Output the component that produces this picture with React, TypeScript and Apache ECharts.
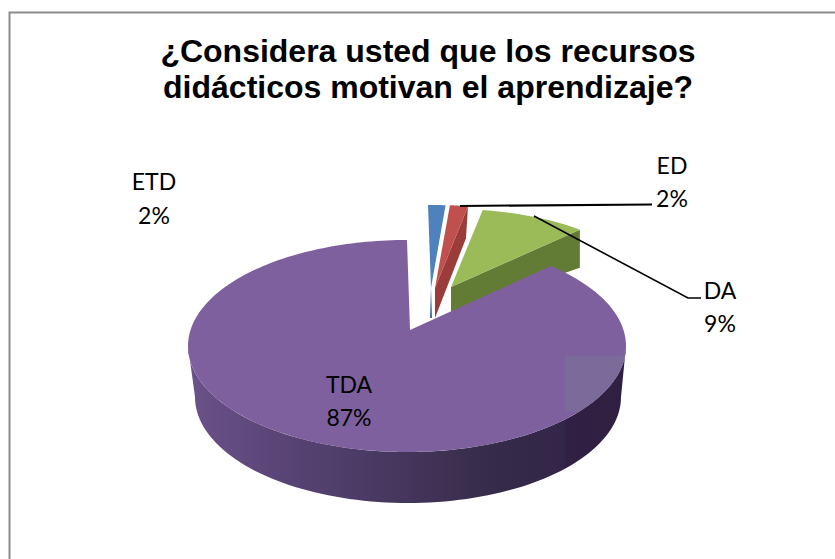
import React, { useEffect, useRef } from "react";
import * as echarts from "echarts";

const categories = ["ETD", "ED", "DA", "TDA"];
const percentValues = [2, 2, 9, 87];
const titleLines = ["¿Considera usted que los recursos", "didácticos motivan el aprendizaje?"];

const START_ANGLE = 92.4;

// Layout of each exploded slice (style, not data)
const sliceLayout: any[] = [
  { apex: [431, 288], apexLow: [430, 318], cx: 431, cy: 288, rx: 190, ry: 83, trimS: 1.5, trimE: 0.4, depth: 0, top: "#4f81bd", side: "#3d6596" },
  { apex: [435, 288], apexLow: [435, 318], cx: 435, cy: 288, rx: 190, ry: 83, trimS: -0.3, trimE: 2, depth: 32, top: "#c0504d", side: "#9a3d3a" },
  { apex: [451, 287], apexLow: [451, 312], cx: 451, cy: 287, rx: 190, ry: 78, trimS: -2.4, trimE: 1.7, depth: 38, top: "#9bbb59", side: "#637c35" },
];
const purple = { apex: [410, 330], cx: 407, cy: 346, rx: 219, ry: 106, growS: 3.4, growE: 2.4, bx: 408, by: 397, brx: 213, bry: 106, top: "#7f609f" };

const labelLayout: any[] = [
  { x: 154, y: 181, y2: 215 },
  { x: 672, y: 165, y2: 198 },
  { x: 720, y: 290, y2: 323 },
  { x: 349, y: 384, y2: 417 },
];

function arc(cx: number, cy: number, rx: number, ry: number, from: number, to: number, n = 90) {
  const pts: number[][] = [];
  for (let i = 0; i <= n; i++) {
    const a = ((from + ((to - from) * i) / n) * Math.PI) / 180;
    pts.push([cx + rx * Math.cos(a), cy - ry * Math.sin(a)]);
  }
  return pts;
}

function sliceRange(idx: number) {
  const total = percentValues.reduce((s, v) => s + v, 0);
  let a = START_ANGLE;
  for (let i = 0; i < idx; i++) a -= (percentValues[i] / total) * 360;
  return [a, a - (percentValues[idx] / total) * 360];
}

function renderSlice(params: any, api: any) {
  const idx = params.dataIndex;
  const [a0, a1] = sliceRange(idx);
  const noShadow = { silent: true };
  const children: any[] = [];
  if (idx < 3) {
    const s = sliceLayout[idx];
    const from = a0 - s.trimS;
    const to = a1 + s.trimE;
    const rim = arc(s.cx, s.cy, s.rx, s.ry, from, to, 12);
    const last = rim[rim.length - 1];
    if (s.depth) {
      children.push({
        type: "polygon",
        shape: { points: [s.apex, s.apexLow, [last[0] - (idx === 1 ? 2 : 0), last[1] + s.depth], last] },
        style: { fill: s.side },
        ...noShadow,
      });
    } else {
      children.push({
        type: "polygon",
        shape: { points: [s.apex, s.apexLow, [s.apexLow[0] + 2, s.apexLow[1]]] },
        style: { fill: s.side },
        ...noShadow,
      });
    }
    children.push({
      type: "polygon",
      shape: { points: [s.apex, ...rim] },
      style: { fill: s.top },
      ...noShadow,
    });
  } else {
    const p = purple;
    const from = a0 + p.growS;
    const to = a1 - p.growE;
    const upper = arc(p.cx, p.cy, p.rx, p.ry, 180, 360);
    const lower = arc(p.bx, p.by, p.brx, p.bry, 360, 180);
    children.push({
      type: "polygon",
      shape: { points: [...upper, ...lower] },
      style: {
        fill: new echarts.graphic.LinearGradient(0, 0, 1, 0, [
          { offset: 0, color: "#6b528a" },
          { offset: 0.18, color: "#5c4679" },
          { offset: 0.45, color: "#473860" },
          { offset: 0.72, color: "#352a47" },
          { offset: 0.86, color: "#33264a" },
          { offset: 0.861, color: "#321f44" },
          { offset: 1, color: "#2f2040" },
        ]),
      },
      ...noShadow,
    });
    children.push({
      type: "polygon",
      shape: { points: [p.apex, ...arc(p.cx, p.cy, p.rx, p.ry, from, to, 240)] },
      style: { fill: p.top },
      ...noShadow,
    });
    const patch = arc(p.cx, p.cy, p.rx, p.ry, 358.5, 322, 24).filter((q) => q[0] >= 565);
    children.push({
      type: "polygon",
      shape: { points: [[565, 356], [623, 356], ...patch.slice(1), [565, patch[patch.length - 1][1]]] },
      style: { fill: "#7b6b9b" },
      ...noShadow,
    });
  }
  return { type: "group", children };
}

function renderLabel(params: any, api: any) {
  const idx = params.dataIndex;
  const l = labelLayout[idx];
  const font = { fontFamily: "Lato", fontSize: 23, fill: "#000", textAlign: "center", textVerticalAlign: "middle" };
  return {
    type: "group",
    children: [
      { type: "text", x: l.x, y: l.y, style: { ...font, text: categories[idx] } },
      { type: "text", x: l.x, y: l.y2, style: { ...font, text: `${api.value(0)}%` } },
    ],
  };
}

export default function App() {
  const ref = useRef<HTMLDivElement>(null);
  useEffect(() => {
    const chart = echarts.init(ref.current!, undefined, { renderer: "svg" });
    const sliceData = categories.map((name, i) => ({ name, value: percentValues[i] }));
    chart.setOption({
      animation: false,
      backgroundColor: "#fff",
      title: {
        text: titleLines.join("\n"),
        left: 423,
        top: 28,
        textAlign: "center",
        textStyle: { fontFamily: "Liberation Sans", fontWeight: "bold", fontSize: 32, lineHeight: 36, color: "#000" },
      },
      graphic: [
        { type: "rect", shape: { x: 9.5, y: 12.5, width: 900, height: 700 }, style: { fill: "none", stroke: "#8c8c8c", lineWidth: 2 }, silent: true, z: 1 },
        { type: "polyline", shape: { points: [[460, 206], [652, 204.5]] }, style: { stroke: "#000", lineWidth: 2, fill: "none" }, silent: true, z: 10 },
        { type: "polyline", shape: { points: [[534, 216], [688, 298], [701, 298]] }, style: { stroke: "#000", lineWidth: 1.6, fill: "none" }, silent: true, z: 10 },
      ],
      series: [
        { type: "custom", coordinateSystem: "none", renderItem: renderSlice, data: sliceData, z: 2 },
        { type: "custom", coordinateSystem: "none", renderItem: renderLabel, data: sliceData, z: 5 },
      ],
    });
    return () => chart.dispose();
  }, []);
  return <div ref={ref} style={{ position: "fixed", left: 0, top: 0, width: 835, height: 559 }} />;
}
